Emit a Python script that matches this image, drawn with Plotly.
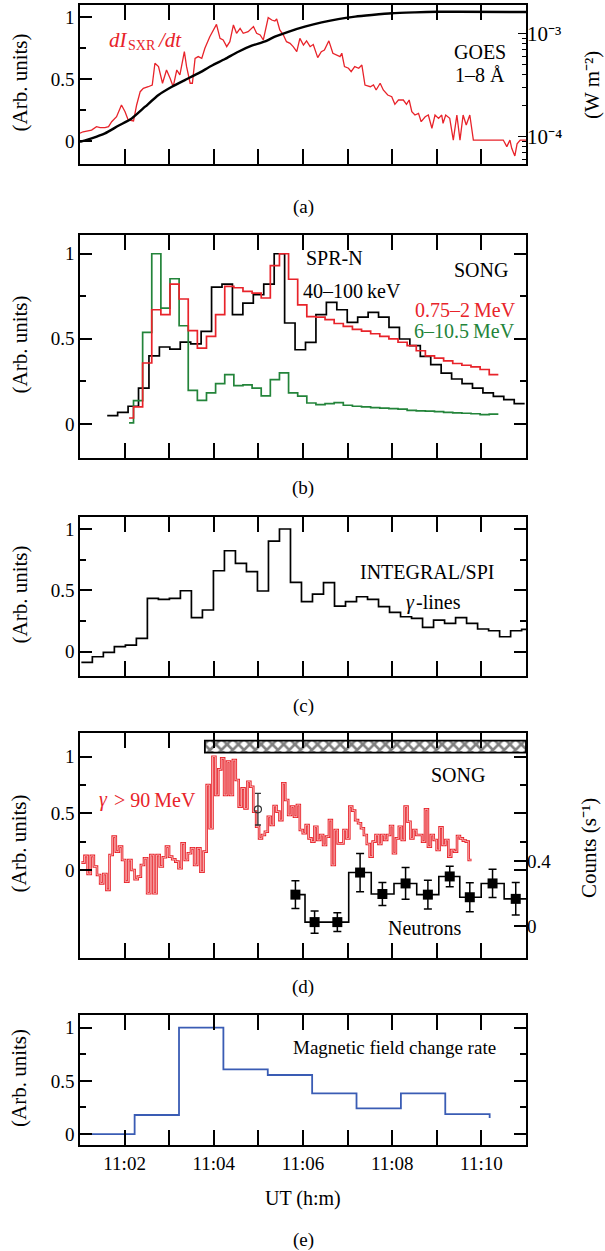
import numpy as np
import plotly.graph_objects as go

# ---------------------------------------------------------------
# Data. Time is given in minutes after 11:00 UT.
# ---------------------------------------------------------------

# (a) GOES 1-8 A soft X-ray flux (W m^-2)
goes_t = [1.0, 1.26, 1.56, 1.86, 2.16, 2.46, 2.76, 3.06, 3.35, 3.65, 3.95, 4.25,
          4.55, 4.85, 5.15, 5.37, 5.67, 6.04, 6.42, 6.79, 7.17, 7.54, 7.99, 8.51,
          9.03, 9.48, 11.0]
goes_flux = [8.93e-5, 9.64e-5, 1.076e-4, 1.276e-4, 1.503e-4, 1.95e-4, 2.53e-4,
             3.04e-4, 3.53e-4, 4.10e-4, 4.85e-4, 5.64e-4, 6.64e-4, 7.59e-4,
             8.36e-4, 9.27e-4, 1.035e-3, 1.159e-3, 1.276e-3, 1.374e-3, 1.449e-3,
             1.503e-3, 1.563e-3, 1.596e-3, 1.618e-3, 1.618e-3, 1.607e-3]

# (a) normalised time derivative of the SXR flux
dsxr_t = [1.0, 1.07, 1.26, 1.37, 1.45, 1.56, 1.64, 1.71, 1.82, 1.93, 2.01, 2.08,
          2.20, 2.27, 2.35, 2.42, 2.53, 2.62, 2.68, 2.76, 2.85, 2.94, 3.02, 3.09,
          3.17, 3.24, 3.34, 3.39, 3.47, 3.52, 3.58, 3.65, 3.73, 3.80, 3.91, 4.06,
          4.14, 4.21, 4.29, 4.36, 4.44, 4.51, 4.59, 4.66, 4.77, 4.89, 4.96, 5.04,
          5.11, 5.22, 5.30, 5.37, 5.41, 5.48, 5.56, 5.63, 5.71, 5.78, 5.86, 5.93,
          6.01, 6.08, 6.16, 6.23, 6.33, 6.41, 6.48, 6.58, 6.67, 6.75, 6.83, 6.87,
          6.93, 7.02, 7.08, 7.16, 7.25, 7.32, 7.39, 7.51, 7.58, 7.64, 7.73, 7.80,
          7.90, 7.99, 8.06, 8.14, 8.25, 8.32, 8.38, 8.44, 8.51, 8.59, 8.65, 8.74,
          8.81, 8.89, 8.96, 9.04, 9.11, 9.14, 9.20, 9.29, 9.37, 9.45, 9.52, 9.59,
          9.66, 9.74, 9.82, 10.49, 10.57, 10.64, 10.68, 10.75, 10.80, 10.87, 11.0]
dsxr_val = [0.065, 0.077, 0.091, 0.118, 0.11, 0.11, 0.118, 0.158, 0.198, 0.293,
            0.239, 0.172, 0.164, 0.293, 0.40, 0.427, 0.44, 0.454, 0.629, 0.602,
            0.468, 0.575, 0.508, 0.44, 0.575, 0.535, 0.723, 0.602, 0.468, 0.468,
            0.669, 0.683, 0.669, 0.75, 0.843, 0.943, 0.83, 0.817, 0.763, 0.803,
            0.938, 0.871, 0.911, 0.871, 0.884, 0.925, 0.871, 0.857, 0.817, 0.997,
            0.978, 0.97, 0.986, 0.898, 0.857, 0.803, 0.79, 0.763, 0.723, 0.83,
            0.776, 0.81, 0.763, 0.78, 0.675, 0.723, 0.736, 0.81, 0.71, 0.696,
            0.683, 0.71, 0.602, 0.589, 0.562, 0.602, 0.589, 0.615, 0.454, 0.44,
            0.454, 0.414, 0.468, 0.414, 0.373, 0.36, 0.298, 0.333, 0.333, 0.298,
            0.333, 0.239, 0.212, 0.225, 0.158, 0.198, 0.212, 0.105, 0.212, 0.185,
            0.212, 0.145, 0.212, 0.185, 0.01, 0.212, 0.01, 0.212, 0.132, 0.212,
            0.01, 0.01, -0.043, 0.01, -0.057, -0.118, -0.02, 0.01, 0.01]

# (b) SPR-N 40-100 keV (14 s bins)
sprn_t0, sprn_dt = 1.61, 0.234
sprn_val = [0.049, 0.068, 0.104, 0.211, 0.40, 0.452, 0.44, 0.481, 0.47, 0.544,
            0.804, 0.822, 0.642, 0.71, 0.759, 0.822, 1.0, 0.593, 0.436, 0.479,
            0.642, 0.714, 0.671, 0.597, 0.628, 0.656, 0.628, 0.567, 0.499, 0.46,
            0.397, 0.348, 0.299, 0.264, 0.237, 0.211, 0.182, 0.162, 0.143, 0.119]

# (b) SONG 0.75-2 MeV and 6-10.5 MeV (first bin is a short one)
song_first_edge = 2.10
song_t0, song_dt = 2.20, 0.2045
song_low = [0.035, 0.10, 0.358, 0.671, 0.642, 0.822, 0.734, 0.548, 0.446, 0.514,
            0.642, 0.808, 0.80, 0.779, 0.769, 0.74, 0.93, 1.0, 0.85, 0.70,
            0.63, 0.628, 0.613, 0.59, 0.573, 0.556, 0.545, 0.53, 0.515, 0.50,
            0.48, 0.46, 0.43, 0.40, 0.387, 0.37, 0.355, 0.345, 0.335, 0.32, 0.29]
song_high = [0.006, 0.137, 0.538, 1.0, 0.681, 0.853, 0.577, 0.197, 0.139, 0.182,
             0.237, 0.29, 0.225, 0.23, 0.21, 0.165, 0.26, 0.30, 0.182, 0.163,
             0.123, 0.114, 0.12, 0.125, 0.11, 0.104, 0.10, 0.096, 0.093, 0.09,
             0.087, 0.08, 0.077, 0.075, 0.072, 0.068, 0.065, 0.063, 0.06, 0.055,
             0.058]

# (c) INTEGRAL/SPI gamma-ray lines
spi_t0, spi_dt = 1.03, 0.2468
spi_val = [-0.087, -0.041, -0.005, 0.041, 0.054, 0.109, 0.435, 0.427, 0.435, 0.497,
           0.277, 0.34, 0.66, 0.823, 0.72, 0.652, 0.495, 0.902, 1.0, 0.565,
           0.408, 0.47, 0.563, 0.372, 0.408, 0.448, 0.427, 0.367, 0.321, 0.285,
           0.272, 0.198, 0.258, 0.231, 0.277, 0.231, 0.185, 0.171, 0.122, 0.171,
           0.182]

# (d) SONG gamma > 90 MeV: before and after the onset
gam_t_start, gam_t_onset, gam_t_end = 1.03, 3.84, 9.78
gam_pre = [0.065, 0.124, -0.035, 0.124, 0.03, -0.044, -0.118, -0.035, -0.176, 0.132,
           0.294, 0.162, 0.206, 0.088, -0.103, 0.088, 0.0, -0.082, -0.059, 0.044,
           0.103, -0.206, 0.132, -0.206, 0.132, 0.03, 0.112, 0.206, 0.118, 0.094,
           0.074, 0.015, 0.235, 0.088, 0.147, 0.191, 0.044, 0.191, -0.015, 0.162]
gam_post = [0.75, 0.368, 1.0, 0.662, 0.888, 0.985, 0.662, 0.956, 0.662, 0.97,
            0.794, 0.559, 0.72, 0.544, 0.779, 0.735, 0.515, 0.382, 0.279, 0.309,
            0.338, 0.47, 0.397, 0.565, 0.515, 0.44, 0.765, 0.618, 0.485, 0.559,
            0.47, 0.574, 0.353, 0.324, 0.397, 0.279, 0.25, 0.382, 0.265, 0.309,
            0.22, 0.294, 0.44, 0.044, 0.353, 0.235, 0.235, 0.353, 0.279, 0.559,
            0.524, 0.44, 0.412, 0.368, 0.309, 0.229, 0.118, 0.25, 0.309, 0.229,
            0.309, 0.265, 0.309, 0.388, 0.147, 0.279, 0.382, 0.265, 0.559, 0.426,
            0.279, 0.353, 0.309, 0.309, 0.25, 0.535, 0.206, 0.309, 0.265, 0.176,
            0.376, 0.221, 0.265, 0.118, 0.176, 0.162, 0.3, 0.279, 0.259, 0.25,
            0.088]
gam_err_t, gam_err_val, gam_err_up, gam_err_dn = 4.99, 0.535, 0.141, 0.138

# (d) interval marked by the hatched bar
hatch_t = [3.80, 11.0]
hatch_y = [1.035, 1.141]

# (d) SONG neutrons (counts s^-1)
neut_t = [5.83, 6.26, 6.77, 7.28, 7.78, 8.30, 8.80, 9.29, 9.74, 10.25, 10.77]
neut_c = [0.193, 0.024, 0.024, 0.329, 0.197, 0.262, 0.193, 0.305, 0.177, 0.262, 0.167]
neut_e = [0.086, 0.068, 0.058, 0.118, 0.071, 0.098, 0.089, 0.063, 0.089, 0.087, 0.10]

# (e) magnetic field change rate (1 min bins)
mag_t0, mag_dt = 1.23, 0.995
mag_val = [0.0, 0.179, 1.0, 0.608, 0.555, 0.382, 0.241, 0.382, 0.188]
mag_end = 0.15

# time axis: labelled every 2 min, ticked every minute
x_major = [2, 4, 6, 8, 10]
x_major_text = ["11:02", "11:04", "11:06", "11:08", "11:10"]
x_minor = [3, 5, 7, 9]

# ---------------------------------------------------------------
# Styling
# ---------------------------------------------------------------
W, H = 605, 1251
FONT = "Liberation Serif"
RED = "#e8232a"
GREEN = "#23843a"
BLUE = "#3a5cb4"
TICKFONT = dict(family=FONT, size=19, color="black")

# panel boxes in pixels: (top, bottom)
boxes = [(5, 164), (235, 458), (517, 676), (733, 958), (1015, 1145)]
x_dom = [80 / W, 526 / W]


def ydom(top, bottom):
    return [1 - bottom / H, 1 - top / H]


def steps(edges, vals):
    """x/y arrays for a histogram outline drawn with line_shape='hv'."""
    return list(edges), list(vals) + [vals[-1]]


fig = go.Figure()

# ---- (a) ----
fig.add_trace(go.Scatter(x=goes_t, y=goes_flux, mode="lines", yaxis="y6", xaxis="x",
                         line=dict(color="black", width=2.4, shape="spline", smoothing=0.6)))
fig.add_trace(go.Scatter(x=dsxr_t, y=dsxr_val, mode="lines", xaxis="x", yaxis="y",
                         line=dict(color=RED, width=1.3)))

# ---- (b) ----
e = [sprn_t0 + k * sprn_dt for k in range(len(sprn_val) + 1)]
xs, ys = steps(e, sprn_val)
fig.add_trace(go.Scatter(x=xs, y=ys, mode="lines", xaxis="x2", yaxis="y2",
                         line=dict(color="black", width=1.7, shape="hv")))
e = [song_first_edge] + [song_t0 + k * song_dt for k in range(len(song_low))]
xs, ys = steps(e, song_high)
fig.add_trace(go.Scatter(x=xs, y=ys, mode="lines", xaxis="x2", yaxis="y2",
                         line=dict(color=GREEN, width=1.7, shape="hv")))
xs, ys = steps(e, song_low)
fig.add_trace(go.Scatter(x=xs, y=ys, mode="lines", xaxis="x2", yaxis="y2",
                         line=dict(color=RED, width=1.7, shape="hv")))

# ---- (c) ----
e = [spi_t0 + k * spi_dt for k in range(len(spi_val) + 1)]
xs, ys = steps(e, spi_val)
fig.add_trace(go.Scatter(x=xs, y=ys, mode="lines", xaxis="x3", yaxis="y3",
                         line=dict(color="black", width=1.7, shape="hv")))

# ---- (d) ----
fig.add_trace(go.Bar(x=[(hatch_t[0] + hatch_t[1]) / 2], y=[hatch_y[1] - hatch_y[0]],
                     base=[hatch_y[0]], width=[hatch_t[1] - hatch_t[0]],
                     xaxis="x4", yaxis="y4",
                     marker=dict(color="white",
                                 line=dict(color="black", width=1.8),
                                 pattern=dict(shape="x", fgcolor="black", bgcolor="white",
                                              size=8, solidity=0.55))))
e_pre = np.linspace(gam_t_start, gam_t_onset, len(gam_pre) + 1)
e_post = np.linspace(gam_t_onset, gam_t_end, len(gam_post) + 1)
e = list(e_pre[:-1]) + list(e_post)
xs, ys = steps(e, gam_pre + gam_post)
fig.add_trace(go.Scatter(x=xs, y=ys, mode="lines", xaxis="x4", yaxis="y4",
                         line=dict(color=RED, width=2.6, shape="hv")))
fig.add_trace(go.Scatter(x=xs, y=ys, mode="lines", xaxis="x4", yaxis="y4",
                         line=dict(color="#fde3e3", width=0.7, shape="hv")))
fig.add_trace(go.Scatter(x=[gam_err_t], y=[gam_err_val], mode="markers", xaxis="x4", yaxis="y4",
                         marker=dict(symbol="circle-open", size=7, color="#333",
                                     line=dict(width=1.2)),
                         error_y=dict(type="data", symmetric=False, array=[gam_err_up],
                                      arrayminus=[gam_err_dn], color="#333",
                                      thickness=1.3, width=3)))
fig.add_trace(go.Scatter(x=neut_t + [11.0], y=neut_c + [neut_c[-1]], mode="lines",
                         xaxis="x4", yaxis="y7",
                         line=dict(color="black", width=1.6, shape="hvh")))
fig.add_trace(go.Scatter(x=neut_t, y=neut_c, mode="markers", xaxis="x4", yaxis="y7",
                         marker=dict(symbol="square", size=10, color="black"),
                         error_y=dict(type="data", array=neut_e, color="black",
                                      thickness=1.5, width=4)))

# ---- (e) ----
e = [mag_t0 + k * mag_dt for k in range(len(mag_val) + 1)]
fig.add_trace(go.Scatter(x=e, y=mag_val + [mag_end], mode="lines", xaxis="x5", yaxis="y5",
                         line=dict(color=BLUE, width=1.8, shape="hv")))

# ---------------------------------------------------------------
# Axes
# ---------------------------------------------------------------
yranges = [[-0.183, 1.099], [-0.2, 1.11], [-0.198, 1.098], [-0.777, 1.209], [-0.103, 1.119]]
layout = dict(width=W, height=H, margin=dict(l=0, r=0, t=0, b=0),
              paper_bgcolor="white", plot_bgcolor="white", showlegend=False,
              font=dict(family=FONT, size=19, color="black"))

for i, (top, bottom) in enumerate(boxes):
    n = "" if i == 0 else str(i + 1)
    last = i == 4
    xa = dict(
        domain=x_dom, anchor="y" + n, range=[1, 11],
        tickmode="array", tickvals=x_major,
        showticklabels=last, ticks="inside", ticklen=15, tickwidth=1.5, tickcolor="black",
        minor=dict(tickmode="array", tickvals=x_minor, ticks="inside", ticklen=15,
                   tickwidth=1.5, tickcolor="black"),
        showline=True, linecolor="black", linewidth=1.5, mirror="ticks",
        showgrid=False, zeroline=False, tickfont=TICKFONT)
    if last:
        xa["ticktext"] = x_major_text
    layout["xaxis" + n] = xa
    layout["yaxis" + n] = dict(
        domain=ydom(top, bottom), anchor="x" + n, range=yranges[i],
        tickmode="array", tickvals=[0, 0.5, 1], ticktext=["0", "0.5", "1"],
        ticks="inside", ticklen=12, tickwidth=1.5, tickcolor="black",
        minor=dict(tickmode="array", tickvals=[0.25, 0.75], ticks="inside", ticklen=6,
                   tickwidth=1.5, tickcolor="black"),
        showline=True, linecolor="black", linewidth=1.5,
        mirror=True if i == 0 else "ticks",
        showgrid=False, zeroline=False, tickfont=TICKFONT)

# right-hand log axis of panel (a)
layout["yaxis6"] = dict(
    overlaying="y", anchor="x", side="right", type="log", range=[-4.264, -2.726],
    tickmode="array", tickvals=[1e-4, 1e-3],
    ticktext=["10\u207b\u2074", "10\u207b\u00b3"],
    ticks="inside", ticklen=8, tickwidth=1.3, tickcolor="black",
    minor=dict(tickmode="array",
               tickvals=[5e-5, 6e-5, 7e-5, 8e-5, 9e-5, 2e-4, 3e-4, 4e-4, 5e-4, 6e-4,
                         7e-4, 8e-4, 9e-4, 2e-3],
               ticks="inside", ticklen=4, tickwidth=1.1, tickcolor="black"),
    showline=False, showgrid=False, zeroline=False,
    tickfont=dict(family=FONT, size=21, color="black"))

# right-hand counts axis of panel (d)
layout["yaxis7"] = dict(
    overlaying="y4", anchor="x4", side="right", range=[-0.197, 1.188],
    tickmode="array", tickvals=[0, 0.4], ticktext=["0", "0.4"],
    ticks="inside", ticklen=12, tickwidth=1.5, tickcolor="black",
    showline=False, showgrid=False, zeroline=False, tickfont=TICKFONT)

fig.update_layout(**layout)

# ---------------------------------------------------------------
# Text
# ---------------------------------------------------------------
ann = []


def txt(text, x, y, xref="paper", yref="paper", color="black", size=20, angle=0,
        anchor="center", style="normal"):
    if xref == "paper":
        x = x / W
    if yref == "paper":
        y = 1 - y / H
    ann.append(dict(text=text, x=x, y=y, xref=xref, yref=yref, showarrow=False,
                    xanchor=anchor, yanchor="middle", textangle=angle,
                    font=dict(family=FONT, size=size, color=color, style=style)))


# axis titles (paper positions in pixels)
for top, bottom in boxes:
    txt("(Arb. units)", 19, (top + bottom) / 2 - 2, size=21, angle=-90)
txt("(W m\u207b\u00b2)", 592, 85, size=21, angle=-90)
txt("Counts (s\u207b\u00b9)", 589, 848, size=21, angle=-90)
txt("UT (h:m)", 303, 1198, size=20)

# panel captions
for lab, yy in zip(["(a)", "(b)", "(c)", "(d)", "(e)"], [207, 488, 706, 987, 1240]):
    txt(lab, 303, yy, size=19)

# in-panel labels (pixel positions for the multi-part labels)
txt("dI", 107, 40, color=RED, size=21, anchor="left", style="italic")
txt("SXR", 126, 45, color=RED, size=14, anchor="left")
txt("/dt", 156, 40, color=RED, size=21, anchor="left", style="italic")
txt("GOES", 9.97, 0.723, "x", "y")
txt("1\u20138 \u00c5", 9.97, 0.535, "x", "y")

txt("SPR-N", 6.70, 0.975, "x2", "y2")
txt("40\u2013100\u2009keV", 7.10, 0.779, "x2", "y2")
txt("SONG", 9.99, 0.906, "x2", "y2")
txt("0.75\u20132\u2009MeV", 9.65, 0.671, "x2", "y2", color=RED)
txt("6\u201310.5\u2009MeV", 9.61, 0.544, "x2", "y2", color=GREEN)

txt("INTEGRAL/SPI", 8.78, 0.65, "x3", "y3")
txt("\u03b3", 404, 602, anchor="left", style="italic")
txt("-lines", 414, 602, anchor="left")

txt("\u03b3", 97, 800, color=RED, anchor="left", style="italic")
txt("> 90\u2009MeV", 112, 800, color=RED, anchor="left")
txt("SONG", 9.47, 0.838, "x4", "y4")
txt("Neutrons", 8.74, -0.512, "x4", "y4")

txt("Magnetic field change rate", 8.06, 0.809, "x5", "y5", size=19)

fig.update_layout(annotations=ann)
fig.write_html("out.html")
